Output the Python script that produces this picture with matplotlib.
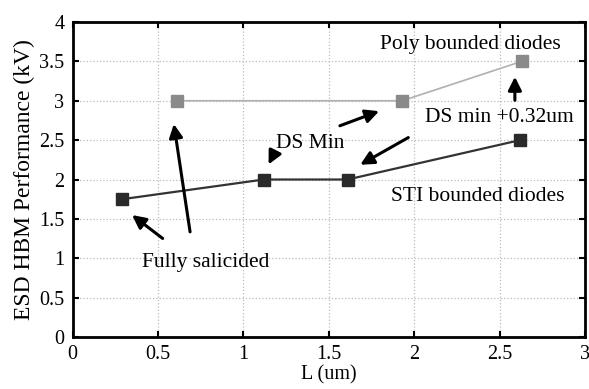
import numpy as np
import matplotlib.pyplot as plt

# ESD HBM performance vs L
poly_L = [0.61, 1.93, 2.63]
poly_v = [3.0, 3.0, 3.5]
sti_L = [0.29, 1.12, 1.61, 2.62]
sti_v = [1.75, 2.0, 2.0, 2.5]

plt.rcParams['font.family'] = ['Liberation Serif', 'DejaVu Serif']

fig = plt.figure(figsize=(5.89, 3.89), dpi=100)
ax = fig.add_axes([0.1234, 0.1337, 0.8696, 0.8097])

ax.plot(poly_L, poly_v, color='#b0b0b0', lw=1.2, marker='s', ms=8,
        mfc='#8a8a8a', mec='#8a8a8a', zorder=3)
ax.plot(sti_L, sti_v, color='#333333', lw=1.6, marker='s', ms=8,
        mfc='#2a2a2a', mec='#2a2a2a', zorder=3)

ax.set_xlim(0, 3)
ax.set_ylim(0, 4)
ax.set_xticks(np.arange(0, 3.01, 0.5))
ax.set_yticks(np.arange(0, 4.01, 0.5))
ax.set_xticklabels(['0', '0.5', '1', '1.5', '2', '2.5', '3'])
ax.set_yticklabels(['0', '0.5', '1', '1.5', '2', '2.5', '3', '3.5', '4'])
ax.grid(True, color='#bbbbbb', ls=':', lw=0.9)
ax.tick_params(direction='in', top=True, right=True, length=4, width=1.5,
               labelsize=14.5, pad=6)
for s in ax.spines.values():
    s.set_linewidth(2)
ax.set_xlabel('L (um)', fontsize=14.5, labelpad=1)
ax.set_ylabel('ESD HBM Performance (kV)', fontsize=17, labelpad=3)

fs = 15.5
ax.text(2.33, 3.72, 'Poly bounded diodes', ha='center', va='center', fontsize=fs)
ax.text(2.5, 2.79, 'DS min +0.32um', ha='center', va='center', fontsize=fs)
ax.text(1.39, 2.46, 'DS Min', ha='center', va='center', fontsize=fs)
ax.text(2.37, 1.78, 'STI bounded diodes', ha='center', va='center', fontsize=fs)
ax.text(0.78, 0.95, 'Fully salicided', ha='center', va='center', fontsize=fs)

arr = dict(arrowstyle='-|>', color='black', lw=2.2, mutation_scale=20)
arrows = [((0.54, 1.23), (0.335, 1.57)),
          ((0.69, 1.30), (0.59, 2.74)),
          ((1.55, 2.67), (1.81, 2.88)),
          ((1.175, 2.31), (1.14, 2.16)),
          ((1.98, 2.55), (1.67, 2.17)),
          ((2.59, 2.97), (2.59, 3.34))]
for tail, head in arrows:
    ax.annotate('', xy=head, xytext=tail, arrowprops=arr)

fig.savefig('out.png', dpi=100)
